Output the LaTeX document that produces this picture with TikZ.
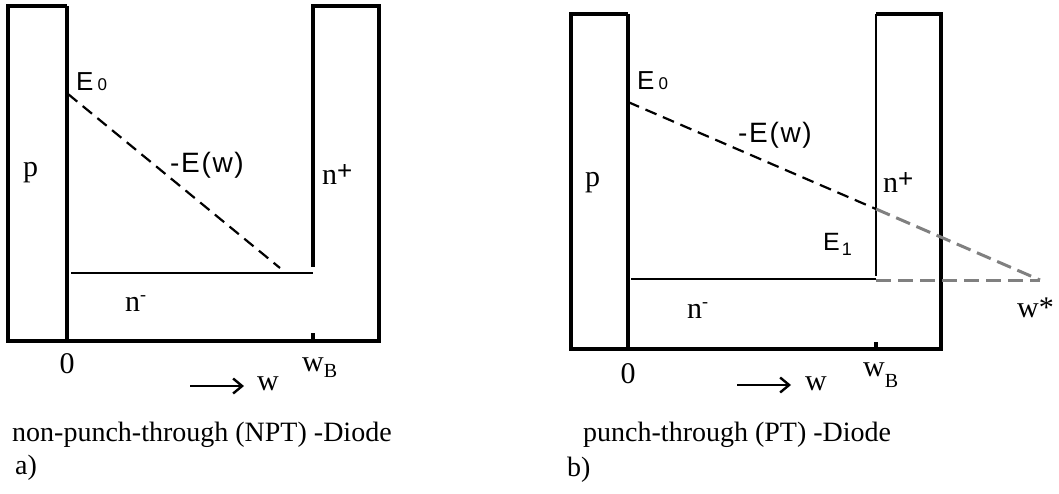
\documentclass[tikz,border=0pt]{standalone}
\usepackage{fontspec}
\setmainfont{Liberation Serif}
\newfontfamily\sansf{Liberation Sans}
\usetikzlibrary{arrows.meta}
\definecolor{ext}{RGB}{128,128,128}
\newcommand{\supplus}{\raisebox{4.5pt}{\sansf\fontsize{26}{26}\selectfont +}}
\newcommand{\supminus}{\raisebox{11pt}{\fontsize{18}{18}\selectfont -}}
\begin{document}
\begin{tikzpicture}[x=1pt,y=-1pt,
  outline/.style={line width=3.5pt,line join=miter},
  inner/.style={line width=3.2pt},
  level/.style={line width=2.6pt},
  field/.style={line width=2.2pt,dash pattern=on 12pt off 7pt},
  extfield/.style={ext,line width=3pt,dash pattern=on 15pt off 7pt},
  lbl/.style={inner sep=0pt,anchor=base west,font=\fontsize{30}{30}\selectfont},
  slbl/.style={inner sep=0pt,anchor=base west,font=\sansf\fontsize{26}{26}\selectfont},
  flbl/.style={inner sep=0pt,anchor=base west,font=\sansf\fontsize{28}{28}\selectfont\addfontfeature{LetterSpace=6}},
  captxt/.style={inner sep=0pt,anchor=base west,font=\fontsize{28}{28}\selectfont},
  warr/.style={line width=2.4pt,-{Straight Barb[length=9pt,width=15pt]}}]
\useasboundingbox (0,0) rectangle (1059,493);

% ---------- a) NPT diode ----------
\draw[outline] (67,6) -- (8,6) -- (8,341) -- (379,341) -- (379,6) -- (313,6) -- (313,267);
\draw[inner] (67,6) -- (67,341);
\draw[inner] (313,333) -- (313,341);
\coordinate (nL1) at (71,273);
\coordinate (nL2) at (313,273);
\draw[level] (nL1) -- (nL2);
\coordinate (E0a) at (68,94);
\coordinate (EendA) at (280,268);
\draw[field] (E0a) -- (EendA);

\node[lbl] (pL) at (23,176) {p};
\node[lbl] (npL) at (322,184) {n\supplus};
\node[lbl] (nmL) at (125,311) {n\supminus};
\node[slbl] (E0L) at (76,90) {E\hspace{4pt}{\fontsize{17}{17}\selectfont 0}};
\node[flbl] (EwL) at (170,172) {-E(w)};
\node[lbl,anchor=base] (zeroL) at (67,373) {0};
\node[lbl] (wBL) at (302,371) {w\raisebox{-6pt}{\fontsize{20}{20}\selectfont B}};
\coordinate (aL1) at (190,386);
\coordinate (aL2) at (244,386);
\draw[warr] (aL1) -- (aL2);
\node[lbl] (wL) at (257,390) {w};
\node[captxt] (capL) at (12,441) {non-punch-through (NPT) -Diode};
\node[captxt] (aLbl) at (15,474) {a)};

% ---------- b) PT diode ----------
\draw[outline] (628,14) -- (571,14) -- (571,349) -- (941,349) -- (941,14) -- (876,14);
\draw[inner] (628,14) -- (628,349);
\draw[level] (876,14) -- (876,276);
\draw[inner] (876,342) -- (876,349);
\coordinate (nR1) at (631,279);
\coordinate (nR2) at (876,279);
\draw[level] (nR1) -- (nR2);
\coordinate (E0b) at (628,102);
\coordinate (E1b) at (876,209);
\coordinate (wstar) at (1040,280);
\coordinate (nR3) at (876,280);
\draw[extfield] (E1b) -- (wstar);
\draw[extfield] (nR3) -- (wstar);
\draw[field] (E0b) -- (E1b);

\node[lbl] (pR) at (585,186) {p};
\node[lbl] (npR) at (883,192) {n\supplus};
\node[lbl] (nmR) at (687,318) {n\supminus};
\node[slbl] (E0R) at (637,89) {E\hspace{4pt}{\fontsize{17}{17}\selectfont 0}};
\node[flbl] (EwR) at (738,142) {-E(w)};
\node[slbl,font=\sansf\fontsize{25}{25}\selectfont] (E1R) at (823,250) {E\hspace{2pt}\raisebox{-5pt}{\fontsize{18}{18}\selectfont 1}};
\node[lbl] (wsR) at (1017,317) {w*};
\node[lbl,anchor=base] (zeroR) at (628,383) {0};
\node[lbl] (wBR) at (863,376) {w\raisebox{-11pt}{\fontsize{20}{20}\selectfont B}};
\coordinate (aR1) at (737,385);
\coordinate (aR2) at (791,385);
\draw[warr] (aR1) -- (aR2);
\node[lbl] (wR) at (805,390) {w};
\node[captxt] (capR) at (583,441) {punch-through (PT) -Diode};
\node[captxt] (bLbl) at (567,476) {b)};
\end{tikzpicture}
\end{document}
